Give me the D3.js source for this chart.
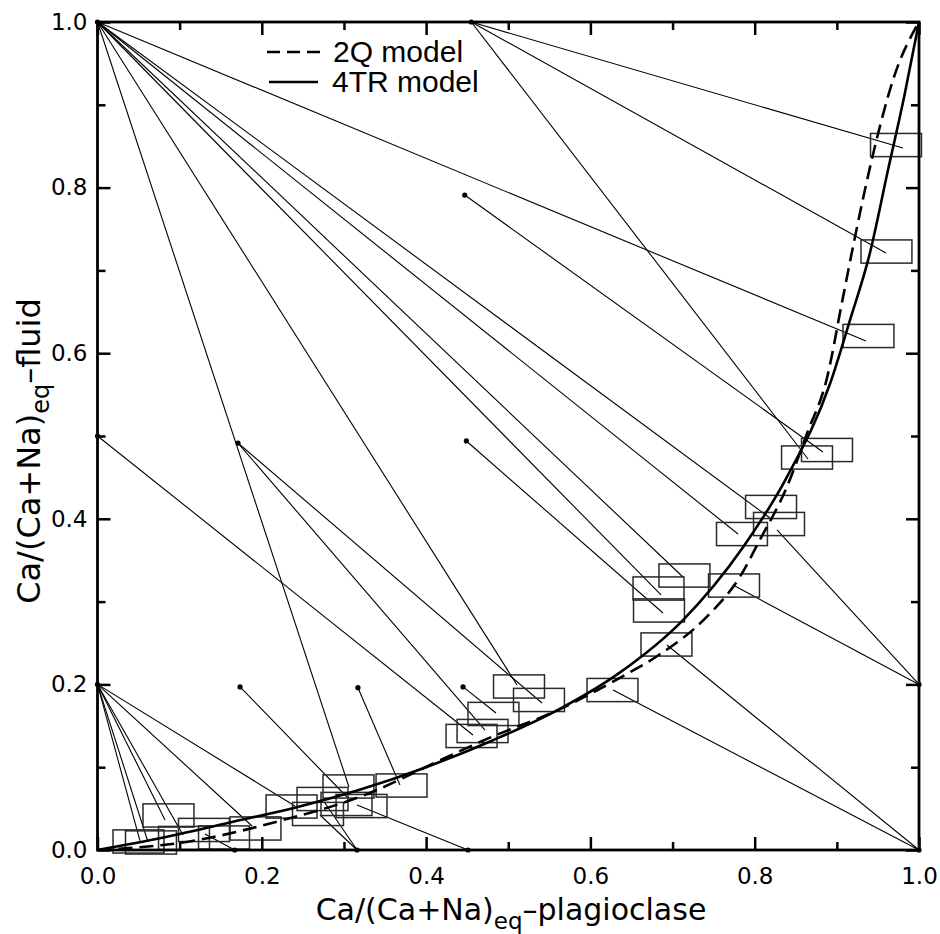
<!DOCTYPE html>
<meta charset="utf-8">
<script src="https://cdn.jsdelivr.net/npm/d3@7"></script>
<style>
body { margin: 0; background: #fff; }
.tick text { font-family: "DejaVu Sans", sans-serif; font-size: 23px; fill: #000; }
.tick line { stroke: #000; stroke-width: 2.5; }
.axis path.domain { display: none; }
.tie { stroke: #000; stroke-width: 1.1; fill: none; }
.box { stroke: #2a2a2a; stroke-width: 1.5; fill: none; }
.model { stroke: #000; stroke-width: 2.6; fill: none; }
.title { font-family: "DejaVu Sans", sans-serif; fill: #000; }
.legend text { font-family: "Liberation Sans", sans-serif; font-size: 30px; fill: #000; }
</style>
<body>
<script>

var width = 940
var height = 934

// tick values
var majorTicks = [0.0, 0.2, 0.4, 0.6, 0.8, 1.0]
var minorTicks = [0.1, 0.3, 0.5, 0.7, 0.9]

// initial compositions (x plagioclase, y fluid)
var startPoints = [
  [0, 1], [0.455, 1], [0.447, 0.791], [0.449, 0.494], [0, 0.5], [0.171, 0.4915],
  [0.445, 0.197], [0.317, 0.196], [0.1735, 0.197], [0.451, 0], [0.316, 0], [0.167, 0],
  [0, 0.2], [1, 0.2], [1, 0]
]

// tie lines: start x, start y, end x, end y
var tieLines = [
  [0, 1, 0.9355, 0.6147], [0, 1, 0.8186, 0.4010], [0, 1, 0.7797, 0.3816],
  [0, 1, 0.7127, 0.3297], [0, 1, 0.6860, 0.3080], [0, 1, 0.5107, 0.1993],
  [0, 1, 0.3061, 0.0761],
  [0.455, 1, 0.9805, 0.8478], [0.455, 1, 0.9598, 0.7210], [0.455, 1, 0.8649, 0.4722],
  [0.447, 0.791, 0.8831, 0.4807],
  [0.449, 0.494, 0.6884, 0.2862],
  [0, 0.5, 0.4571, 0.1389],
  [0.171, 0.4915, 0.5411, 0.1775], [0.171, 0.4915, 0.4717, 0.1449],
  [0.445, 0.197, 0.4851, 0.1655],
  [0.317, 0.196, 0.3682, 0.0785],
  [0.1735, 0.197, 0.3037, 0.0640],
  [0.451, 0, 0.3159, 0.0543],
  [0.316, 0, 0.2708, 0.0423], [0.316, 0, 0.2769, 0.0568],
  [0.167, 0, 0.1309, 0.0193],
  [1, 0.2, 0.8271, 0.3865], [1, 0.2, 0.7736, 0.3200],
  [1, 0, 0.6932, 0.2476], [1, 0, 0.6275, 0.1932],
  [0, 0.2, 0.2404, 0.0531], [0, 0.2, 0.1881, 0.0290], [0, 0.2, 0.1041, 0.0181],
  [0, 0.2, 0.0822, 0.0362], [0, 0.2, 0.0615, 0.0097], [0, 0.2, 0.0517, 0.0109]
]

// equilibrium compositions with their uncertainty
var eqBoxes = [
  [0.972, 0.8514], [0.9604, 0.7228], [0.9385, 0.6208], [0.888, 0.4831], [0.8637, 0.474],
  [0.8199, 0.4143], [0.8296, 0.3937], [0.7845, 0.3816], [0.7145, 0.3315], [0.6829, 0.3158],
  [0.6835, 0.2893], [0.7748, 0.3194], [0.6926, 0.2482], [0.6269, 0.1932], [0.5131, 0.1975],
  [0.5374, 0.1812], [0.482, 0.1643], [0.4687, 0.1437], [0.4553, 0.1377], [0.3701, 0.0779],
  [0.3055, 0.0767], [0.2739, 0.0616], [0.3031, 0.0556], [0.3214, 0.0531], [0.2684, 0.0435],
  [0.2362, 0.0525], [0.1923, 0.026], [0.0864, 0.0417], [0.1296, 0.0242], [0.1053, 0.0145],
  [0.154, 0.0151], [0.0499, 0.0103], [0.0651, 0.0091]
]
var errX = 0.031
var errY = 0.014

// model curves
var model4TR = [
  [0, 0], [0.08, 0.015], [0.16, 0.033], [0.24, 0.051], [0.32, 0.073], [0.40, 0.100],
  [0.48, 0.132], [0.56, 0.169], [0.634, 0.213], [0.713, 0.278], [0.786, 0.366],
  [0.839, 0.45], [0.892, 0.564], [0.916, 0.64], [0.94, 0.72], [0.962, 0.82],
  [0.982, 0.91], [1, 1]
]
var model2Q = [
  [0, 0], [0.11, 0.01], [0.225, 0.036], [0.319, 0.064], [0.425, 0.112], [0.469, 0.132],
  [0.567, 0.172], [0.636, 0.208], [0.681, 0.234], [0.74, 0.28], [0.782, 0.33],
  [0.806, 0.374], [0.839, 0.438], [0.864, 0.504], [0.888, 0.57], [0.906, 0.66],
  [0.922, 0.74], [0.944, 0.84], [0.97, 0.935], [1, 1]
]

var svg = d3.select("body").append("svg")
  .attr("width", width)
  .attr("height", height)

var x = d3.scaleLinear().domain([0, 1]).range([97.5, 919])
var y = d3.scaleLinear().domain([0, 1]).range([850, 22])

// tie lines
svg.append("g").selectAll("line")
  .data(tieLines)
  .enter().append("line")
    .attr("class", "tie")
    .attr("x1", function(d) { return x(d[0]) })
    .attr("y1", function(d) { return y(d[1]) })
    .attr("x2", function(d) { return x(d[2]) })
    .attr("y2", function(d) { return y(d[3]) })

// error boxes
svg.append("g").selectAll("rect")
  .data(eqBoxes)
  .enter().append("rect")
    .attr("class", "box")
    .attr("x", function(d) { return x(d[0] - errX) })
    .attr("y", function(d) { return y(d[1] + errY) })
    .attr("width", function(d) { return x(d[0] + errX) - x(d[0] - errX) })
    .attr("height", function(d) { return y(d[1] - errY) - y(d[1] + errY) })

svg.append("g").selectAll("circle")
  .data(startPoints)
  .enter().append("circle")
    .attr("cx", function(d) { return x(d[0]) })
    .attr("cy", function(d) { return y(d[1]) })
    .attr("r", 2.6)
    .attr("fill", "#000")

var line = d3.line()
  .x(function(d) { return x(d[0]) })
  .y(function(d) { return y(d[1]) })
  .curve(d3.curveMonotoneX)

svg.append("path").datum(model2Q).attr("class", "model")
  .attr("stroke-dasharray", "14,7").attr("d", line)
svg.append("path").datum(model4TR).attr("class", "model").attr("d", line)

// axes, ticks pointing inwards on all four sides
function addAxis(axis, tr, ticks, len, labels) {
  return svg.append("g").attr("class", "axis").attr("transform", tr)
    .call(axis.tickValues(ticks).tickSize(-len)
      .tickFormat(labels ? d3.format(".1f") : ""))
}
addAxis(d3.axisBottom(x), "translate(0,850)", minorTicks, 8, false)
addAxis(d3.axisBottom(x), "translate(0,850)", majorTicks, 13, true)
  .call(function(g) { g.selectAll("text").attr("y", 18) })
addAxis(d3.axisTop(x), "translate(0,22)", minorTicks, 8, false)
addAxis(d3.axisTop(x), "translate(0,22)", majorTicks, 13, false)
addAxis(d3.axisLeft(y), "translate(97.5,0)", minorTicks, 8, false)
addAxis(d3.axisLeft(y), "translate(97.5,0)", majorTicks, 13, true)
  .call(function(g) { g.selectAll("text").attr("x", -10) })
addAxis(d3.axisRight(y), "translate(919,0)", minorTicks, 8, false)
addAxis(d3.axisRight(y), "translate(919,0)", majorTicks, 13, false)

svg.append("rect")
  .attr("x", x(0)).attr("y", y(1))
  .attr("width", x(1) - x(0)).attr("height", y(0) - y(1))
  .attr("fill", "none").attr("stroke", "#000").attr("stroke-width", 2.8)

// axis titles
var xt = svg.append("text").attr("class", "title").attr("font-size", "30px")
  .attr("x", 511).attr("y", 920).attr("text-anchor", "middle")
xt.append("tspan").text("Ca/(Ca+Na)")
xt.append("tspan").attr("font-size", "23px").attr("dy", 9).text("eq")
xt.append("tspan").attr("dy", -9).text("\u2013plagioclase")

var yt = svg.append("text").attr("class", "title").attr("font-size", "32px")
  .attr("transform", "translate(40,451) rotate(-90)").attr("text-anchor", "middle")
yt.append("tspan").text("Ca/(Ca+Na)")
yt.append("tspan").attr("font-size", "24px").attr("dy", 9).text("eq")
yt.append("tspan").attr("dy", -9).text("\u2013fluid")

// legend
var legend = svg.append("g").attr("class", "legend")
legend.append("line").attr("x1", 267).attr("x2", 322).attr("y1", 52).attr("y2", 52)
  .attr("class", "model").attr("stroke-dasharray", "13,7")
legend.append("line").attr("x1", 269).attr("x2", 318).attr("y1", 82).attr("y2", 82)
  .attr("class", "model")
legend.append("text").attr("x", 333).attr("y", 62).text("2Q model")
legend.append("text").attr("x", 332).attr("y", 92).text("4TR model")

</script>
</body>
